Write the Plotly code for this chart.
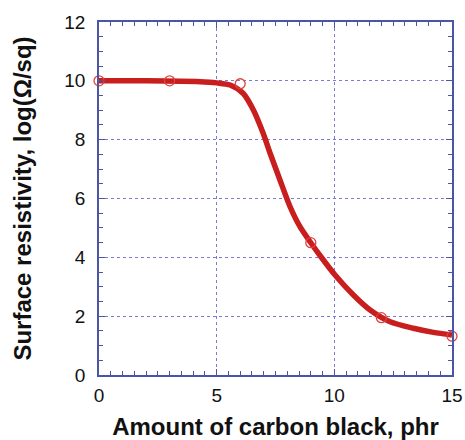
import plotly.graph_objects as go

# Measured points: carbon black loading (phr) vs log surface resistivity
phr = [0, 3, 6, 9, 12, 15]
log_rs = [10.0, 10.0, 9.9, 4.5, 1.95, 1.32]

# Smooth trend line through the measurements
trend_x = [0.0, 2.0, 4.3, 5.0, 5.57, 6.13, 6.56, 6.98, 7.27, 7.69, 8.12, 8.54,
           8.97, 9.43, 10.03, 10.81, 11.52, 12.37, 13.36, 14.21, 15.0]
trend_y = [10.0, 10.0, 9.97, 9.93, 9.86, 9.57, 9.01, 8.21, 7.54, 6.63, 5.72,
           5.04, 4.53, 4.02, 3.40, 2.72, 2.21, 1.81, 1.59, 1.45, 1.36]

x_ticks = [0, 5, 10, 15]
y_ticks = [0, 2, 4, 6, 8, 10, 12]

RED = "#c81e1e"
AXIS = "#4a55a8"
GRID = "#7a7ad0"
FONT = "Liberation Sans, Arial, sans-serif"

fig = go.Figure()
fig.add_trace(go.Scatter(
    x=trend_x, y=trend_y, mode="lines",
    line=dict(color=RED, width=5.5, shape="spline", smoothing=0.8),
    hoverinfo="skip", cliponaxis=False,
))
fig.add_trace(go.Scatter(
    x=phr, y=log_rs, mode="markers", cliponaxis=False,
    marker=dict(symbol="circle-open", size=10, color="#e04040",
                line=dict(width=1.3, color="#e04040")),
))

axis_common = dict(
    showline=True, linecolor=AXIS, linewidth=1.5, mirror="ticks",
    ticks="inside", ticklen=6, tickcolor=AXIS, tickwidth=1.2,
    showgrid=True, gridcolor=GRID, griddash="dot", gridwidth=1,
    zeroline=False, automargin=False,
    tickfont=dict(family=FONT, size=19, color="#111"),
    title_font=dict(family=FONT, size=24, color="#111"),
    minor=dict(ticks="inside", ticklen=4, tickcolor=AXIS, dtick=0.5, showgrid=False),
)

fig.update_xaxes(
    range=[0, 15], tickvals=x_ticks, ticktext=[str(v) for v in x_ticks],
    title_text="<b>Amount of carbon black, phr</b>", title_standoff=15,
    ticklabelstandoff=2,
    **axis_common,
)
fig.update_yaxes(
    range=[0, 12], tickvals=y_ticks, ticktext=[str(v) for v in y_ticks],
    title_text="<b>Surface resistivity, log(Ω/sq)</b>", title_standoff=26,
    ticklabelstandoff=8,
    **axis_common,
)

fig.update_layout(
    width=465, height=440,
    margin=dict(l=99, r=13, t=22, b=65),
    plot_bgcolor="white", paper_bgcolor="white",
    showlegend=False,
)

fig.write_html("out.html")
